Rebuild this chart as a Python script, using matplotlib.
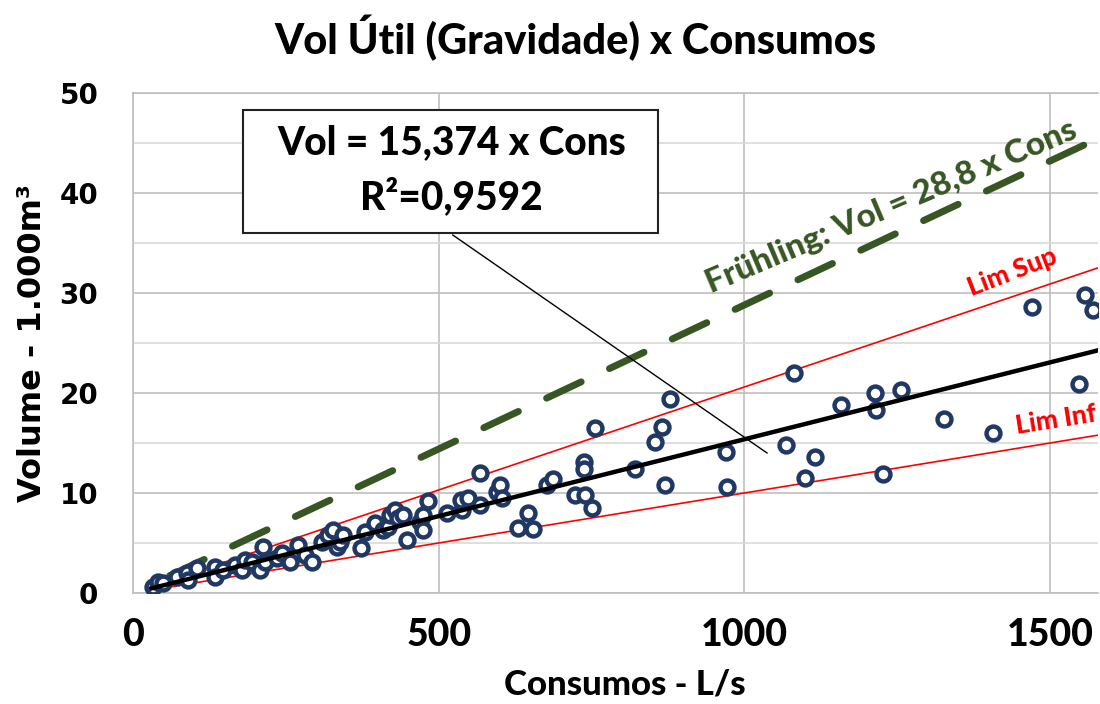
import numpy as np
import matplotlib
matplotlib.use("Agg")
import matplotlib.pyplot as plt
from matplotlib.patches import Rectangle

# consumo (L/s) x volume util (1000 m3)
cons = [33, 41, 49, 72, 88, 90, 105, 134, 134, 147, 167, 178, 183, 195, 208,
        213, 216, 235, 244, 257, 270, 281, 293, 309, 319, 327, 333, 338, 343,
        373, 379, 396, 409, 417, 420, 428, 433, 442, 448, 469, 474, 474, 483,
        513, 538, 536, 548, 567, 567, 595, 600, 603, 630, 646, 654, 677, 687,
        723, 738, 738, 739, 750, 755, 821, 853, 865, 870, 878, 970, 971, 1068,
        1081, 1099, 1115, 1158, 1213, 1215, 1226, 1256, 1326, 1406, 1470, 1548,
        1557, 1570]
vol = [0.6, 1.1, 1.0, 1.6, 2.0, 1.3, 2.5, 2.6, 1.6, 2.3, 2.8, 2.3, 3.3, 3.1, 2.3,
       4.6, 3.1, 3.5, 4.0, 3.1, 4.8, 3.8, 3.1, 5.1, 5.8, 6.3, 4.6, 5.1, 5.8,
       4.5, 6.1, 7.0, 6.3, 6.6, 7.8, 8.3, 7.5, 7.8, 5.3, 7.1, 7.8, 6.3, 9.2,
       8.0, 8.3, 9.3, 9.5, 8.8, 12.0, 10.1, 10.8, 9.5, 6.5, 8.0, 6.4, 10.8, 11.4,
       9.8, 13.1, 12.4, 9.8, 8.5, 16.5, 12.4, 15.1, 16.6, 10.8, 19.4, 14.1, 10.6, 14.8,
       22.0, 11.5, 13.6, 18.8, 20.0, 18.3, 11.9, 20.3, 17.4, 16.0, 28.6, 20.9,
       29.8, 28.3]

slope_reg = 15.374 / 1000   # ajuste
slope_fruhling = 28.8 / 1000
slope_sup = 20.6 / 1000
slope_inf = 10.0 / 1000

xmax = 1578
navy = "#203864"
green = "#375623"
cal = "Lato"
heavy = 900

fig = plt.figure(figsize=(11, 7.04), dpi=100)
ax = fig.add_axes([0.1209, 0.1577, 0.998 - 0.1209, 0.8679 - 0.1577])

# linhas
xs = np.array([50, xmax])
ax.plot(xs, slope_sup * xs, color="red", lw=1.2, zorder=2)
ax.plot(xs, slope_inf * xs, color="red", lw=1.2, zorder=2)
xs = np.array([60, xmax - 10])
ax.plot(xs, slope_fruhling * xs, color=green, lw=5, dashes=(5.5, 4.5),
        dash_capstyle="round", zorder=2)

ax.plot(cons, vol, "o", ms=10, mfc="white", mec=navy, mew=3.2, zorder=3)

xs = np.array([30, xmax])
ax.plot(xs, slope_reg * xs, color="black", lw=3.2, zorder=4)

ax.set_xlim(0, xmax)
ax.set_ylim(0, 50)
ax.set_xticks([0, 500, 1000, 1500])
ax.set_yticks(range(0, 51, 10))
ax.set_yticks(range(5, 50, 10), minor=True)
ax.grid(True, which="major", color="#bfbfbf", lw=1.2, zorder=0)
ax.grid(True, which="minor", axis="y", color="#d9d9d9", lw=1.2, zorder=0)
ax.set_axisbelow(True)
ax.spines["right"].set_visible(False)
for s in ["left", "bottom", "top"]:
    ax.spines[s].set_color("#bfbfbf")
    ax.spines[s].set_linewidth(1.2)
ax.tick_params(which="both", length=0)
ax.tick_params(axis="y", pad=25, labelsize=20)
ax.tick_params(axis="x", pad=18, labelsize=27)
for t in ax.get_yticklabels():
    t.set_fontweight("bold")
    t.set_family("DejaVu Sans")
for t in ax.get_xticklabels():
    t.set_fontweight(heavy)
    t.set_family(cal)

ax.set_ylabel("Volume - 1.000m³", fontsize=23, fontweight="bold",
              family="DejaVu Sans", labelpad=8)
ax.set_xlabel("Consumos - L/s", fontsize=25, fontweight=heavy, family=cal)
ax.xaxis.set_label_coords(0.51, -0.152)
fig.text(0.523, 0.946, "Vol Útil (Gravidade) x Consumos", ha="center",
         va="center", fontsize=30, fontweight=heavy, family=cal)

# caixa da equacao
ax.add_patch(Rectangle((180, 36.0), 678, 12.3, facecolor="white",
                       edgecolor="#222222", lw=1.5, zorder=6))
ax.text(521, 45.0, "Vol = 15,374 x Cons", ha="center", va="center",
        fontsize=28, fontweight=heavy, family=cal, zorder=7)
ax.text(521, 39.6, "R²=0,9592", ha="center", va="center",
        fontsize=28, fontweight=heavy, family=cal, zorder=7)
ax.plot([523, 1037], [35.8, 14.0], color="black", lw=1, zorder=5)

ax.text(1241, 38.6, "Frühling: Vol = 28,8 x Cons", rotation=23,
        rotation_mode="anchor", ha="center", va="center", fontsize=24,
        fontweight=heavy, color=green, family=cal, zorder=5)
ax.text(1439, 32.1, "Lim Sup", rotation=21, rotation_mode="anchor",
        ha="center", va="center", fontsize=19, fontweight=heavy,
        color="red", family=cal, zorder=5)
ax.text(1509, 17.3, "Lim Inf", rotation=9, rotation_mode="anchor",
        ha="center", va="center", fontsize=19, fontweight=heavy,
        color="red", family=cal, zorder=5)

fig.savefig("out.png", dpi=100)
